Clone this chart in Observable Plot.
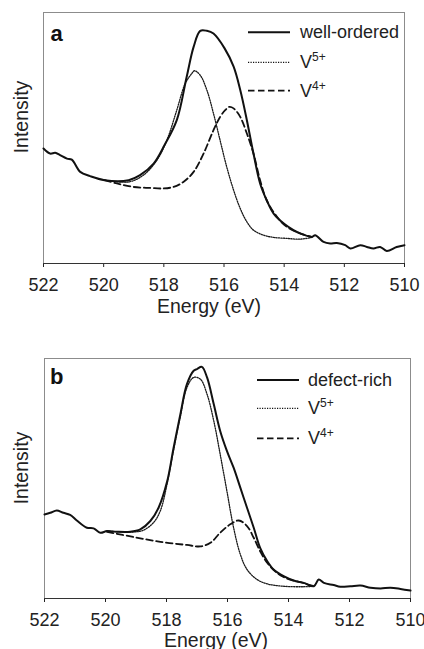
<!DOCTYPE html>
<html>
<head>
<meta charset="utf-8">
<script src="https://cdn.jsdelivr.net/npm/d3@7"></script>
<script src="https://cdn.jsdelivr.net/npm/@observablehq/plot@0.6"></script>
<style>
  html, body { margin: 0; padding: 0; background: #fff; }
  #wrap { position: relative; width: 424px; height: 649px; overflow: hidden; }
  .panel { position: absolute; left: 0; }
  #overlay { position: absolute; left: 0; top: 0; pointer-events: none; }
  text { font-family: 'Liberation Sans', Arial, Helvetica, sans-serif; fill: #222; }
</style>
</head>
<body>
<div id="wrap">
  <div class="panel" id="pa" style="top:0px"></div>
  <div class="panel" id="pb" style="top:320px"></div>
  <svg id="overlay" width="424" height="649"></svg>
</div>
<script>
// ---- Data (energy in eV, intensity in arbitrary units) ----
const xTicks = [522, 520, 518, 516, 514, 512, 510];
const xLabel = "Energy (eV)";
const yLabel = "Intensity";

// Panel a: well-ordered
const aSolidE = [522.00,521.78,521.61,521.45,521.22,521.06,520.78,520.45,519.97,519.17,518.79,518.34,517.98,517.57,517.24,517.01,516.79,516.57,516.35,515.98,515.68,515.46,515.24,515.02,514.80,514.58,514.35,513.99,513.69,513.47,513.08,512.97,512.69,512.47,512.25,511.97,511.80,511.47,511.25,511.03,510.81,510.59,510.26,510.00];
const aSolidI = [45.8,43.8,44.1,43.2,41.8,41.4,36.5,34.8,33.2,33.2,35.2,39.8,47.1,57.1,74.4,86.3,92.7,92.7,91.6,85.7,78.4,69.1,57.1,43.8,31.9,25.2,19.9,15.7,13.3,12.0,10.6,11.3,8.6,8.0,8.2,7.3,6.0,7.3,6.6,6.0,6.6,5.0,6.6,7.3];
const aV5E = [519.97,519.17,518.68,518.23,517.90,517.57,517.29,517.07,516.98,516.79,516.57,516.35,516.13,515.91,515.68,515.46,515.24,515.02,514.69,514.35,513.91,513.47,513.08];
const aV5I = [33.2,32.5,35.2,41.2,49.1,61.1,71.7,75.7,76.8,75.0,69.1,59.8,49.1,38.5,29.2,21.9,16.6,13.3,11.3,10.4,10.0,9.7,10.4];
const aV4E = [519.97,519.56,519.01,518.45,518.01,517.68,517.35,517.01,516.68,516.35,516.13,515.96,515.82,515.68,515.46,515.24,515.02,514.80,514.58,514.24,513.91,513.47,513.08];
const aV4I = [33.2,31.9,30.5,30.1,29.9,30.5,32.5,36.5,43.8,53.1,58.4,61.1,62.4,61.8,58.4,51.8,43.8,33.2,25.2,18.6,14.6,12.0,10.6];

// Panel b: defect-rich
const bSolidE = [522.00,521.81,521.60,521.38,521.16,520.94,520.61,520.39,520.17,519.95,519.63,519.19,518.86,518.53,518.26,517.98,517.77,517.55,517.33,517.11,517.00,516.84,516.67,516.45,516.24,516.02,515.80,515.58,515.36,515.14,514.93,514.70,514.49,514.16,513.83,513.50,513.17,513.01,512.84,512.52,512.30,511.97,511.64,511.31,510.98,510.66,510.33,510.00];
const bSolidI = [35.0,35.7,36.7,35.7,34.8,32.5,29.5,29.2,27.4,28.1,27.8,27.8,28.8,32.3,37.8,48.7,62.6,76.5,89.3,94.9,95.6,96.5,92.1,80.9,69.8,61.5,54.5,46.2,37.8,29.5,21.1,15.6,12.1,9.3,7.5,6.5,5.1,7.9,6.5,5.6,4.9,5.1,5.4,4.5,4.2,4.5,4.0,3.3];
const bV5E = [519.95,519.08,518.75,518.42,518.20,517.98,517.77,517.55,517.33,517.11,516.89,516.67,516.45,516.24,516.02,515.80,515.58,515.36,515.03,514.70,514.16,513.50,513.17];
const bV5I = [28.1,27.7,28.5,31.7,36.6,47.8,61.7,75.5,87.9,92.1,91.4,85.1,74.0,60.1,44.8,29.5,18.4,12.1,7.9,6.1,5.1,4.9,5.1];
const bV4E = [519.95,519.08,518.20,517.33,516.89,516.56,516.24,515.91,515.63,515.36,515.14,514.93,514.70,514.38,514.05,513.50,513.17];
const bV4I = [27.8,25.6,23.6,22.3,21.7,23.2,27.4,30.9,32.5,30.2,25.3,19.7,14.9,10.7,8.3,6.4,5.1];

const panelLetters = ["a", "b"];
const sampleNames = ["well-ordered", "defect-rich"];
const componentNames = ["V", "V"];
const componentSups = ["5+", "4+"];

// ---- helpers ----
const toRows = (E, I) => E.map((e, k) => ({e, i: I[k]}));
const FONT = "'Liberation Sans', Arial, Helvetica, sans-serif";
const DOT = "1.2,1.3";
const DASH = "6.5,3.5";

function panel({solid, v5, v4, height, mt, mb, ml, mr}) {
  return Plot.plot({
    width: 424,
    height,
    marginTop: mt, marginBottom: mb, marginLeft: ml, marginRight: mr,
    style: {fontFamily: FONT, fontSize: "18px", color: "#222", background: "transparent", overflow: "visible"},
    x: {domain: [522, 510]},
    y: {domain: [0, 100], axis: null},
    marks: [
      Plot.frame({stroke: "#8c8c8c", strokeWidth: 1}),
      Plot.axisX(xTicks, {tickSize: 4, tickPadding: 11, fontSize: 18, label: null, color: "#222", tickFormat: d => String(d)}),
      Plot.ruleY([0], {stroke: "#333", strokeWidth: 1}),
      Plot.line(v5, {x: "e", y: "i", stroke: "#1a1a1a", strokeWidth: 1.3, strokeDasharray: DOT, curve: "catmull-rom"}),
      Plot.line(v4, {x: "e", y: "i", stroke: "#111", strokeWidth: 1.8, strokeDasharray: DASH, curve: "catmull-rom"}),
      Plot.line(solid, {x: "e", y: "i", stroke: "#111", strokeWidth: 2, curve: "catmull-rom"})
    ]
  });
}

document.getElementById("pa").appendChild(panel({
  solid: toRows(aSolidE, aSolidI), v5: toRows(aV5E, aV5I), v4: toRows(aV4E, aV4I),
  height: 320, mt: 12, mb: 57, ml: 43, mr: 20
}));
document.getElementById("pb").appendChild(panel({
  solid: toRows(bSolidE, bSolidI), v5: toRows(bV5E, bV5I), v4: toRows(bV4E, bV4I),
  height: 329, mt: 38, mb: 51, ml: 44, mr: 14
}));

// ---- overlay: axis titles, panel letters, legends ----
const ov = d3.select("#overlay");
const layout = [
  {xl: {x: 209, y: 312.5}, yl: {x: 28, y: 117}, letter: {x: 50.5, y: 40.5}, leg: {x0: 248, x1: 290, tx: 300, ys: [32.3, 62.3, 90.7]}},
  {xl: {x: 216, y: 647}, yl: {x: 28, y: 468}, letter: {x: 50, y: 384}, leg: {x0: 257, x1: 299, tx: 308, ys: [380, 408.3, 438.3]}}
];
const legendStyles = [
  {w: 2, dash: null},
  {w: 1.3, dash: DOT},
  {w: 1.8, dash: DASH}
];
layout.forEach((L, p) => {
  ov.append("text").attr("x", L.xl.x).attr("y", L.xl.y).attr("text-anchor", "middle")
    .attr("font-size", 19.5).text(xLabel);
  ov.append("text").attr("transform", `translate(${L.yl.x},${L.yl.y}) rotate(-90)`).attr("text-anchor", "middle")
    .attr("font-size", 19.5).text(yLabel);
  ov.append("text").attr("x", L.letter.x).attr("y", L.letter.y).attr("font-size", 22)
    .attr("font-weight", "bold").style("fill", "#111").text(panelLetters[p]);
  L.leg.ys.forEach((y, k) => {
    const s = legendStyles[k];
    const ln = ov.append("line").attr("x1", L.leg.x0).attr("x2", L.leg.x1).attr("y1", y).attr("y2", y)
      .attr("stroke", "#111").attr("stroke-width", s.w);
    if (s.dash) ln.attr("stroke-dasharray", s.dash);
    const t = ov.append("text").attr("x", L.leg.tx).attr("y", y + 6).attr("font-size", 18);
    if (k === 0) t.text(sampleNames[p]);
    else {
      t.append("tspan").text(componentNames[k - 1]);
      t.append("tspan").attr("font-size", 12).attr("dy", -7).text(componentSups[k - 1]);
    }
  });
});
</script>
</body>
</html>
